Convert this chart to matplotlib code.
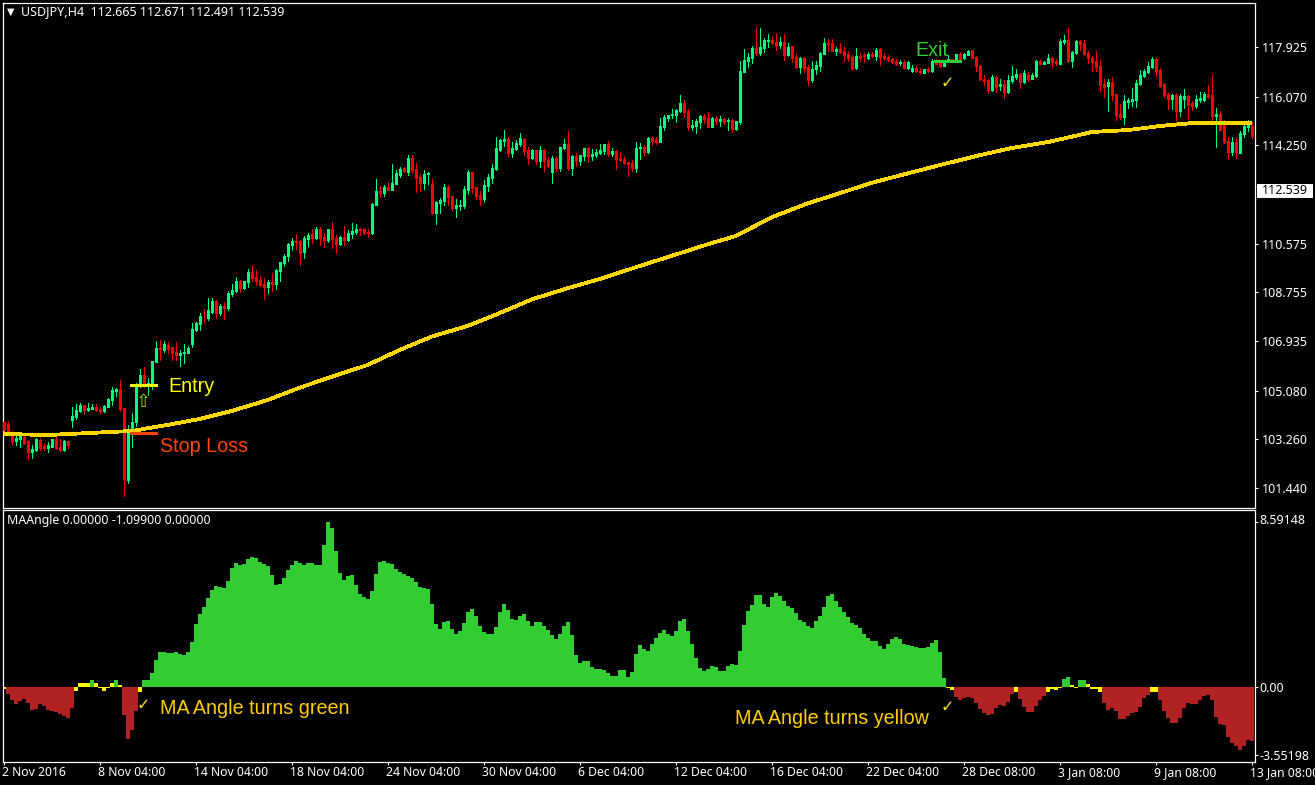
import matplotlib
matplotlib.use("Agg")
import matplotlib.pyplot as plt
from matplotlib.patches import Rectangle
from matplotlib.transforms import ScaledTranslation
import numpy as np

W, H = 1315, 785

open_ = [
103.92,103.83,103.55,103.20,103.27,103.36,103.20,102.79,102.86,103.25,
103.02,102.95,102.99,103.26,102.96,102.86,103.20,103.98,104.08,104.32,
104.53,104.36,104.39,104.47,104.41,104.32,104.48,104.73,105.07,105.14,
104.43,101.74,103.55,103.91,105.25,105.66,105.29,105.29,106.15,106.66,
106.60,106.79,106.71,106.54,106.42,106.47,106.47,106.81,107.35,107.57,
107.85,107.78,108.03,108.43,107.97,108.24,108.16,108.69,108.80,109.17,
108.92,109.14,109.51,109.33,109.22,109.08,108.95,109.14,109.07,109.55,
109.85,110.11,110.52,110.67,110.67,110.26,110.75,110.93,110.79,111.12,
110.82,110.71,111.12,110.79,110.56,110.82,110.71,110.94,111.01,111.13,
111.12,111.01,110.97,112.02,112.54,112.47,112.69,112.58,112.80,113.14,
113.40,113.25,113.78,113.36,113.07,112.84,113.18,112.80,111.72,112.09,
112.17,112.69,112.36,111.91,111.98,111.98,112.58,113.25,112.69,112.39,
112.24,112.73,113.03,113.36,114.07,114.41,114.49,113.96,114.11,114.30,
114.49,114.07,113.78,114.07,113.66,114.07,113.70,113.25,113.78,113.40,
114.15,114.30,113.40,113.85,113.66,113.85,114.15,113.85,113.89,113.96,
114.04,114.30,113.93,114.04,113.78,113.74,113.63,113.59,113.40,114.15,
114.19,114.00,114.52,114.45,114.37,114.93,115.27,115.38,115.38,115.53,
115.83,115.53,114.93,114.97,115.12,115.35,115.27,114.93,115.27,115.16,
115.23,115.16,115.20,114.86,115.12,116.99,117.40,117.51,117.89,117.70,
117.89,118.15,118.19,118.11,118.00,118.11,117.63,117.96,117.55,117.18,
117.51,117.18,116.69,117.10,117.21,117.66,118.07,118.07,117.78,117.85,
117.78,117.66,117.55,117.14,117.59,117.63,117.51,117.66,117.59,117.85,
117.59,117.55,117.48,117.40,117.33,117.36,117.14,117.03,117.14,117.03,
116.95,117.10,117.03,117.40,117.33,117.21,117.36,117.48,117.44,117.66,
117.51,117.63,117.81,117.55,117.21,116.73,116.69,116.32,116.80,116.47,
116.54,116.24,116.65,116.80,116.91,116.62,116.88,116.73,116.84,117.40,
117.29,117.33,117.51,117.40,117.29,118.11,118.19,117.40,117.70,118.15,
118.07,117.70,117.51,117.40,117.21,116.54,116.47,116.62,116.17,115.42,
115.31,115.87,115.91,115.94,116.54,116.84,116.99,117.18,117.48,117.07,
116.54,116.17,115.98,116.13,115.53,115.98,116.09,115.83,115.72,115.94,
115.94,116.17,116.13,115.35,115.42,115.05,114.41,114.00,114.37,113.96,
114.67,114.93,114.97,
]
high = [
103.92,103.96,103.57,103.42,103.42,103.42,103.23,103.05,103.30,103.31,
103.07,103.17,103.28,103.36,103.26,103.23,103.20,104.46,104.58,104.61,
104.54,104.61,104.58,104.57,104.48,104.54,104.82,105.20,105.19,105.48,
104.43,103.80,104.26,105.35,105.88,105.95,105.54,106.19,106.92,106.97,
106.95,106.89,106.71,106.91,106.60,106.81,106.75,107.62,107.63,107.99,
108.12,108.55,108.53,108.46,108.32,108.39,108.80,109.07,109.33,109.22,
109.17,109.63,109.78,109.59,109.36,109.28,109.22,109.48,109.63,109.89,
110.19,110.60,110.79,110.93,110.71,110.86,110.97,111.12,111.20,111.20,
110.97,111.12,111.38,110.88,110.86,111.23,111.07,111.35,111.31,111.16,
111.12,111.12,112.09,112.99,112.73,112.77,112.88,113.55,113.33,113.44,
113.44,113.89,113.89,113.59,113.18,113.33,113.25,112.99,112.17,112.28,
112.80,112.77,112.36,112.24,112.21,112.73,113.33,113.25,112.69,112.54,
112.95,113.18,113.55,114.56,114.49,114.82,114.56,114.37,114.45,114.71,
114.52,114.19,114.11,114.07,114.22,114.11,113.81,113.85,113.85,114.19,
114.49,114.79,113.89,113.96,113.89,114.15,114.19,114.11,114.11,114.30,
114.30,114.41,114.15,114.07,114.00,113.85,113.63,113.70,114.37,114.34,
114.26,114.56,114.56,114.56,115.27,115.38,115.38,115.61,115.61,116.13,
115.94,115.61,115.20,115.23,115.38,115.42,115.50,115.31,115.35,115.35,
115.27,115.27,115.23,115.16,117.40,117.85,117.70,117.96,118.67,118.63,
118.26,118.41,118.34,118.45,118.30,118.41,118.07,117.96,117.66,117.55,
117.55,117.25,117.40,117.40,117.74,118.26,118.22,118.22,117.92,118.07,
117.92,117.78,117.63,117.89,117.70,117.70,117.74,117.74,117.89,117.89,
117.70,117.63,117.51,117.48,117.44,117.44,117.40,117.25,117.21,117.14,
117.10,117.18,117.48,117.48,117.40,117.44,117.63,117.48,117.66,117.74,
117.70,117.81,117.81,117.59,117.25,116.88,116.73,116.88,116.84,116.73,
116.69,116.88,117.21,117.10,116.95,117.07,116.99,116.95,117.44,117.44,
117.40,117.66,117.55,117.48,118.22,118.37,118.63,117.77,118.19,118.19,
118.19,117.77,117.59,117.77,117.44,116.73,116.73,116.80,116.17,115.79,
116.13,116.02,116.39,116.69,117.07,117.10,117.36,117.55,117.51,117.14,
116.58,116.20,116.17,116.20,116.17,116.35,116.13,115.91,116.13,116.24,
116.24,116.50,116.88,115.64,115.53,115.20,114.56,114.56,114.56,114.79,
115.05,115.20,115.12,
]
low = [
103.55,103.42,103.05,103.05,102.99,103.09,102.53,102.57,102.84,102.86,
102.86,102.79,102.96,102.90,102.82,102.84,102.92,103.72,104.02,104.29,
104.21,104.31,104.38,104.32,104.26,104.29,104.46,104.54,104.88,104.31,
101.14,101.63,102.97,103.76,105.23,105.20,104.92,105.14,106.15,106.22,
106.51,106.47,106.22,106.22,106.00,106.10,106.47,106.70,107.31,107.35,
107.60,107.72,107.97,107.78,107.91,107.75,108.09,108.62,108.78,108.77,
108.88,108.95,109.18,109.03,109.00,108.51,108.73,108.80,108.88,109.18,
109.74,109.93,110.34,110.37,109.78,110.04,110.49,110.60,110.75,110.52,
110.45,110.64,110.41,110.22,110.52,110.52,110.67,110.79,110.93,110.90,
110.93,110.82,110.93,112.02,112.32,112.36,112.58,112.58,112.80,113.07,
113.25,113.14,113.21,112.50,112.54,112.62,112.80,111.68,111.31,111.72,
112.02,112.02,111.83,111.57,111.83,111.91,112.43,112.47,112.24,112.02,
112.13,112.54,112.84,113.33,114.04,114.22,113.85,113.81,114.07,114.22,
113.89,113.55,113.74,113.55,113.44,113.29,113.44,112.84,113.29,113.29,
114.11,113.33,113.14,113.48,113.51,113.70,113.63,113.70,113.81,113.93,
113.93,113.85,113.85,113.36,113.66,113.55,113.10,113.29,113.25,113.74,
113.89,113.96,114.26,114.30,114.37,114.82,115.16,115.27,115.12,115.50,
115.31,114.82,114.82,114.71,114.90,115.08,114.93,114.93,115.05,114.97,
115.05,114.82,114.75,114.82,115.05,116.99,117.18,117.33,117.63,117.63,
117.74,117.92,118.04,117.81,117.89,117.44,117.59,117.36,117.14,116.95,
116.99,116.50,116.62,116.91,117.03,117.66,117.78,117.78,117.63,117.70,
117.40,117.40,117.07,117.10,117.40,117.36,117.48,117.55,117.44,117.25,
117.48,117.40,117.33,117.25,117.25,117.14,117.10,116.99,116.99,116.91,
116.95,116.99,116.99,117.29,117.18,117.21,117.36,117.36,117.36,117.44,
117.48,117.63,117.51,117.03,116.69,116.50,116.20,116.28,116.24,116.32,
116.02,116.20,116.58,116.73,116.39,116.58,116.65,116.73,116.80,117.29,
117.29,117.33,117.18,117.25,117.29,118.04,117.36,117.18,117.66,117.81,
117.63,117.33,117.03,117.03,116.28,116.06,115.53,115.94,115.20,115.23,
115.05,115.64,115.72,115.68,116.50,116.80,116.95,117.14,116.84,116.43,
116.06,115.61,115.61,115.16,115.35,115.64,115.23,115.57,115.64,115.87,
115.91,116.02,115.20,114.19,114.82,114.34,113.74,113.89,113.78,113.96,
114.56,114.79,114.52,
]
close = [
103.61,103.48,103.20,103.32,103.37,103.14,102.79,102.90,103.27,102.95,
102.95,103.05,103.26,102.92,102.87,103.20,103.04,104.13,104.36,104.54,
104.36,104.44,104.48,104.36,104.32,104.51,104.77,105.10,105.15,104.38,
101.77,103.58,103.91,105.25,105.66,105.32,105.35,106.19,106.67,106.64,
106.82,106.64,106.47,106.41,106.50,106.51,106.67,107.38,107.60,107.87,
107.82,108.09,108.43,107.97,108.24,108.16,108.74,108.84,109.18,108.93,
109.17,109.51,109.30,109.18,109.03,108.95,109.14,109.07,109.59,109.89,
110.11,110.56,110.67,110.65,110.22,110.79,110.90,110.79,111.12,110.80,
110.71,111.12,110.75,110.56,110.82,110.71,110.97,111.05,111.12,111.10,
110.97,110.97,112.06,112.54,112.47,112.69,112.58,112.84,113.21,113.36,
113.29,113.78,113.33,113.03,112.84,113.18,113.21,111.72,112.13,112.21,
112.69,112.32,111.91,112.02,112.02,112.62,113.25,112.65,112.36,112.24,
112.77,113.07,113.40,114.15,114.45,114.49,113.96,114.15,114.34,114.52,
114.04,113.78,114.07,113.66,114.07,113.66,113.48,113.78,113.40,114.19,
114.30,113.40,113.85,113.66,113.89,114.15,113.85,113.93,114.00,114.07,
114.30,113.93,114.04,113.74,113.70,113.59,113.55,113.40,114.15,114.19,
114.00,114.52,114.41,114.37,114.97,115.31,115.38,115.42,115.57,115.83,
115.50,114.93,115.01,115.16,115.35,115.23,114.93,115.27,115.16,115.23,
115.12,115.20,114.86,115.16,117.03,117.44,117.55,117.89,117.70,117.92,
118.19,118.19,118.07,118.00,118.11,117.63,117.92,117.51,117.18,117.51,
117.14,116.69,117.10,117.25,117.70,118.07,118.04,117.78,117.85,117.74,
117.63,117.51,117.14,117.59,117.51,117.59,117.66,117.59,117.81,117.55,
117.51,117.44,117.36,117.29,117.36,117.14,117.36,117.14,117.03,116.99,
117.10,117.03,117.40,117.29,117.21,117.36,117.48,117.36,117.66,117.48,
117.66,117.78,117.51,117.21,116.73,116.65,116.32,116.80,116.43,116.54,
116.24,116.69,116.84,116.91,116.62,116.95,116.73,116.88,117.40,117.29,
117.36,117.51,117.36,117.33,118.15,118.19,117.40,117.74,118.15,118.04,
117.66,117.51,117.36,117.18,116.50,116.43,116.62,116.13,115.38,115.31,
115.91,115.94,115.98,116.58,116.88,117.03,117.21,117.48,117.03,116.47,
116.13,115.98,116.13,115.53,116.09,116.09,115.79,115.72,115.98,116.02,
116.17,116.06,115.35,115.42,114.82,114.37,114.00,114.37,114.00,114.71,
114.97,115.01,114.60,
]

ma_bars = [0,11,26,32,41,49,57,66,74,82,91,99,107,116,124,132,141,149,159,167,176,183,192,201,209,217,226,234,244,252,261,269,272,281,289,297,312]
ma_values = [103.46,103.42,103.53,103.57,103.80,104.02,104.32,104.73,105.19,105.60,106.04,106.60,107.10,107.50,107.98,108.49,108.91,109.25,109.74,110.12,110.55,110.86,111.56,112.08,112.46,112.85,113.20,113.51,113.88,114.15,114.37,114.64,114.75,114.82,114.97,115.08,115.08]

ma_angle = [
-0.12,-0.38,-0.69,-0.90,-0.75,-0.64,-0.85,-1.20,-1.15,-0.90,
-0.99,-1.20,-1.25,-1.30,-1.41,-1.51,-1.62,-1.09,-0.23,0.21,
0.21,0.21,0.33,0.21,-0.05,-0.23,-0.05,0.21,0.33,0.10,
-1.48,-2.73,-2.26,-1.27,-0.28,0.33,0.36,0.73,1.39,1.81,
1.81,1.75,1.75,1.81,1.70,1.65,1.81,2.33,3.27,3.79,
4.15,4.62,5.04,5.25,5.19,5.14,5.51,6.18,6.44,6.34,
6.39,6.65,6.76,6.71,6.50,6.39,6.29,5.82,5.30,5.35,
5.66,6.08,6.34,6.55,6.44,6.34,6.44,6.44,6.34,6.34,
7.38,8.59,8.25,7.07,5.92,5.56,5.77,5.82,5.30,4.83,
4.67,4.57,4.99,5.87,6.50,6.55,6.44,6.39,6.13,5.98,
5.87,5.77,5.66,5.45,5.19,5.14,5.09,4.31,3.27,3.00,
3.37,3.42,3.00,2.74,2.90,3.32,3.89,4.05,3.68,3.16,
2.85,2.74,2.74,3.11,3.89,4.31,4.00,3.53,3.47,3.68,
3.79,3.42,3.16,3.37,3.37,3.16,2.95,2.69,2.48,2.74,
3.16,3.37,2.69,1.65,1.23,1.34,1.34,1.02,0.92,0.92,
0.87,0.71,0.56,0.56,0.87,0.87,0.50,0.76,1.70,2.17,
1.96,1.86,2.22,2.54,2.80,2.95,2.74,2.64,2.90,3.42,
3.53,2.90,2.22,1.49,0.97,0.82,0.92,1.08,1.02,0.82,
0.82,1.08,1.18,1.13,1.86,3.21,3.94,4.26,4.78,4.78,
4.31,4.15,4.67,4.88,4.72,4.46,4.20,4.10,3.84,3.47,
3.37,3.16,3.06,3.42,3.68,4.15,4.72,4.83,4.46,4.15,
3.89,3.63,3.32,3.21,3.06,2.74,2.54,2.38,2.38,2.12,
1.96,2.22,2.48,2.59,2.48,2.22,2.17,2.12,2.07,2.01,
2.01,2.07,2.28,2.43,1.81,0.45,-0.05,-0.16,-0.54,-0.69,
-0.59,-0.54,-0.59,-0.85,-1.16,-1.37,-1.48,-1.42,-1.11,-0.96,
-1.01,-0.80,-0.38,-0.30,-0.64,-1.06,-1.32,-1.32,-1.01,-0.69,
-0.49,-0.28,-0.10,-0.16,-0.05,0.40,0.50,0.09,-0.05,0.33,
0.35,0.14,-0.10,-0.10,-0.30,-0.85,-1.22,-1.11,-1.27,-1.68,
-1.68,-1.53,-1.37,-1.32,-1.06,-0.59,-0.43,-0.30,-0.30,-0.69,
-1.27,-1.63,-1.89,-1.89,-1.63,-1.11,-0.85,-0.90,-0.90,-0.69,
-0.49,-0.43,-0.69,-1.58,-1.95,-2.00,-2.62,-2.94,-3.09,-3.30,
-3.09,-2.78,-2.83,
]
angle_threshold = 0.30

price_ticks = [117.925,116.070,114.250,110.575,108.755,106.935,105.080,103.260,101.440]
last_price = 112.539
angle_ticks = [8.59148,0.0,-3.55198]
angle_tick_labels = ["8.59148","0.00","-3.55198"]
date_labels = ["2 Nov 2016","8 Nov 04:00","14 Nov 04:00","18 Nov 04:00","24 Nov 04:00",
               "30 Nov 04:00","6 Dec 04:00","12 Dec 04:00","16 Dec 04:00","22 Dec 04:00",
               "28 Dec 08:00","3 Jan 08:00","9 Jan 08:00","13 Jan 08:00"]
date_bars = list(range(0, 313, 24))

entry_price, stop_price, exit_price = 105.29, 103.50, 117.40
entry_bars = (31.8, 38.0)
exit_bars = (232.8, 239.0)

UP, DOWN = "#00FF7F", "#FF0000"
H_GREEN, H_RED, H_YELLOW = "#32CD32", "#B22222", "#FFFF00"
GOLD = "#FFD700"
ui_font = ["Noto Sans", "DejaVu Sans"]

def box(x0, y0, x1, y1):
    return [x0 / W, 1 - y1 / H, (x1 - x0) / W, (y1 - y0) / H]

fig = plt.figure(figsize=(W / 100, H / 100), dpi=100, facecolor="black")
ax = fig.add_axes(box(2.5, 2.5, 1255.5, 507.5), facecolor="black")
ax2 = fig.add_axes(box(2.5, 509.5, 1255.5, 761.5), facecolor="black")

idx = np.arange(len(close))
o, h, l, c = map(np.array, (open_, high, low, close))
colors = [UP if cc >= oo else DOWN for oo, cc in zip(o, c)]
ax.vlines(idx, l, h, colors=colors, linewidth=0.72, antialiased=False, zorder=2)
ax.vlines(idx, np.minimum(o, c), np.maximum(o, c), colors=colors, linewidth=2.16,
          antialiased=False, capstyle="butt", zorder=3)
ax.plot(ma_bars, ma_values, color=GOLD, lw=2.0, solid_capstyle="butt", antialiased=False, zorder=4)
ax.plot(entry_bars, [entry_price] * 2, color="#FFFF00", lw=2.2, zorder=5)
ax.plot(entry_bars, [stop_price] * 2, color="#FF4500", lw=2.2, zorder=5)
ax.plot(exit_bars, [exit_price] * 2, color="#32CD32", lw=2.2, zorder=5)
ax.set_xlim(-0.3, 312.95)
ax.set_ylim(100.711, 119.589)

v = np.array(ma_angle)
hcol = [H_GREEN if x > angle_threshold else (H_RED if x < -angle_threshold else H_YELLOW) for x in v]
ax2.bar(idx, v, width=1.0, color=hcol, linewidth=0, antialiased=False)
ax2.set_xlim(-0.3, 312.95)
ax2.set_ylim(-3.897, 9.232)

for a in (ax, ax2):
    for s in a.spines.values():
        s.set_color("white")
        s.set_linewidth(0.9)
    a.tick_params(colors="white", length=2.2, width=0.8, labelsize=9)

ax.xaxis.set_visible(False)
ax.yaxis.tick_right()
ax.tick_params(axis="y", pad=2.5)
ax.set_yticks(price_ticks)
ax.set_yticklabels([f"{p:.3f}" for p in price_ticks], family=ui_font, color="white")

ax2.yaxis.tick_right()
ax2.tick_params(axis="y", pad=0.5)
ax2.set_yticks(angle_ticks)
ax2.set_yticklabels(angle_tick_labels, family=ui_font, color="white")
ax2.get_yticklabels()[0].set_transform(
    ax2.get_yticklabels()[0].get_transform() + ScaledTranslation(0, 3 / 100, fig.dpi_scale_trans))
ax2.set_xticks(date_bars)
ax2.set_xticklabels(date_labels, family=ui_font, color="white", ha="left", fontsize=8.8)
ax2.tick_params(axis="x", direction="out", pad=0.8)
for t in ax2.get_xticklabels():
    t.set_transform(t.get_transform() + ScaledTranslation(-2 / 100, 0, fig.dpi_scale_trans))

def tx(x, y, s, **kw):
    return fig.text(x / W, 1 - y / H, s, **kw)

fig.add_artist(Rectangle((1257 / W, 1 - 198 / H), 56 / W, 14 / H, transform=fig.transFigure,
                         facecolor="white", edgecolor="none"))
tx(1262, 191, f"{last_price:.3f}", color="black", fontsize=9, family=ui_font, ha="left", va="center")

tx(10.5, 12, "\u25bc", color="white", fontsize=7, ha="center", va="center", family="DejaVu Sans")
tx(21, 12, "USDJPY,H4  112.665 112.671 112.491 112.539", color="white", fontsize=9, family=ui_font, ha="left", va="center")
tx(7, 520.5, "MAAngle 0.00000 -1.09900 0.00000", color="white", fontsize=8.9, family=ui_font, ha="left", va="center")

label = dict(fontsize=14.2, family="Liberation Sans", ha="left", va="center")
tx(168, 386, "Entry", color="#FFFF00", **label)
tx(160, 446, "Stop Loss", color="#FF4500", **label)
tx(915, 51, "Exit", color="#32CD32", **label)
tx(160, 708, "MA Angle turns green", color="#FFCC00", **label)
tx(735, 718, "MA Angle turns yellow", color="#FFCC00", **label)

check = dict(color="#FFE135", fontsize=11.5, family="DejaVu Sans", ha="center", va="center")
tx(143, 705, "\u2713", **check)
tx(947, 83, "\u2713", **check)
tx(947, 707, "\u2713", **check)
tx(143, 402, "\u21e7", color="#C8C800", fontsize=13, family="DejaVu Sans", ha="center", va="center")

fig.savefig("out.png", dpi=100, facecolor="black")
